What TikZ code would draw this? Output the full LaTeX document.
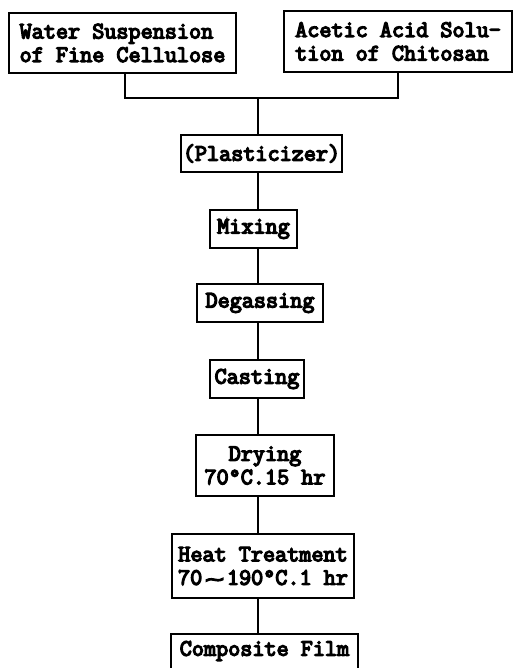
\documentclass[tikz,border=0pt]{standalone}
\usepackage{fontspec}
\usepackage{graphicx}
\newfontfamily\tw{Latin Modern Mono}
\newfontfamily\symfont{DejaVu Sans}
% stroke the glyph outlines as well as filling them, for a heavier typewriter look
\newcommand{\heavyon}{\special{pdf:literal direct 2 Tr 1.3 w}}
\newcommand{\heavyoff}{\special{pdf:literal direct 0 Tr}}
\newcommand{\wavy}{\makebox[24.7pt]{\scalebox{1.6}[1.0]{\symfont\fontsize{16}{16}\selectfont ∼}}}
\begin{document}
\begin{tikzpicture}[x=1pt,y=-1pt,
  txt/.style={font=\tw\fontsize{23.5}{23.5}\selectfont,
    execute at begin node=\heavyon, execute at end node=\heavyoff},
  stepbox/.style={txt,draw,line width=1.3pt,inner sep=0pt,align=center},
  link/.style={line width=1.3pt}]
\clip (0,0) rectangle (513,668);

% starting materials
\node[stepbox,align=left,minimum width=227,minimum height=60] (cell) at (122.5,43)
  {Water Suspension\\of Fine Cellulose};
\node[stepbox,align=left,minimum width=228,minimum height=61] (chit) at (398,41.5)
  {Acetic Acid Solu-\\tion of Chitosan};

% process steps
\node[stepbox,minimum width=161,minimum height=37] (plast) at (261.5,153.5) {(Plasticizer)};
\node[stepbox,minimum width=87,minimum height=38] (mix) at (253.5,229) {Mixing};
\node[stepbox,minimum width=126,minimum height=38] (degas) at (260,303) {Degassing};
\node[stepbox,minimum width=94,minimum height=38] (cast) at (257,379) {Casting};
\node[stepbox,minimum width=138,minimum height=61] (dry) at (265,465.5) {Drying\\70°C.15 hr};
\node[stepbox,minimum width=182,minimum height=64] (heat) at (263,566) {Heat Treatment\\70\wavy190°C.1 hr};
\node[draw,line width=1.3pt,minimum width=187,minimum height=41,inner sep=0pt] (film) at (264.5,654.5) {};
\node[txt,inner sep=0pt] (filmtext) at (264.5,651) {Composite Film};

% joining the two feeds
\coordinate (jl) at (125,98);
\coordinate (jr) at (398,98);
\coordinate (jc) at (258,98);
\draw[link] (cell.south -| jl) -- (jl) -- (jr) -- (chit.south -| jr);
\draw[link] (jc) -- (plast.north -| jc);

% main line
\draw[link] (plast.south -| jc) -- (mix.north -| jc);
\draw[link] (mix.south -| jc) -- (degas.north -| jc);
\draw[link] (degas.south -| jc) -- (cast.north -| jc);
\draw[link] (cast.south -| jc) -- (dry.north -| jc);
\draw[link] (dry.south -| jc) -- (heat.north -| jc);
\draw[link] (heat.south -| jc) -- (film.north -| jc);
\end{tikzpicture}
\end{document}
